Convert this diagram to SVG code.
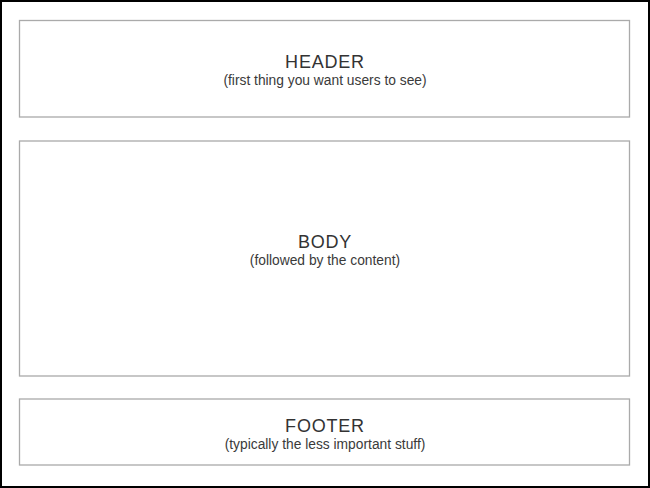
<svg xmlns="http://www.w3.org/2000/svg" width="650" height="488" viewBox="0 0 650 488">
<style>
.box{fill:#fff;stroke:#aaa;stroke-width:1.3}
.t{font-family:"Liberation Sans",Arial,sans-serif;fill:#333;text-anchor:middle}
.h{font-size:18px;letter-spacing:0.8px}
.s{font-size:13.8px;fill:#3a3a3a}
</style>
<rect x="0" y="0" width="650" height="488" fill="#fff"/>
<rect x="1" y="1" width="648" height="486" fill="none" stroke="#000" stroke-width="2"/>
<g id="header">
<rect class="box" x="19.5" y="20.5" width="610" height="96.5"/>
<text class="t h" x="325" y="68">HEADER</text>
<text class="t s" x="325" y="85">(first thing you want users to see)</text>
</g>
<g id="body">
<rect class="box" x="19.5" y="141" width="610" height="235"/>
<text class="t h" x="325" y="248">BODY</text>
<text class="t s" x="325" y="265">(followed by the content)</text>
</g>
<g id="footer">
<rect class="box" x="19.5" y="399" width="610" height="66"/>
<text class="t h" x="325" y="432">FOOTER</text>
<text class="t s" x="325" y="449">(typically the less important stuff)</text>
</g>
<g id="connectors"/>
</svg>
